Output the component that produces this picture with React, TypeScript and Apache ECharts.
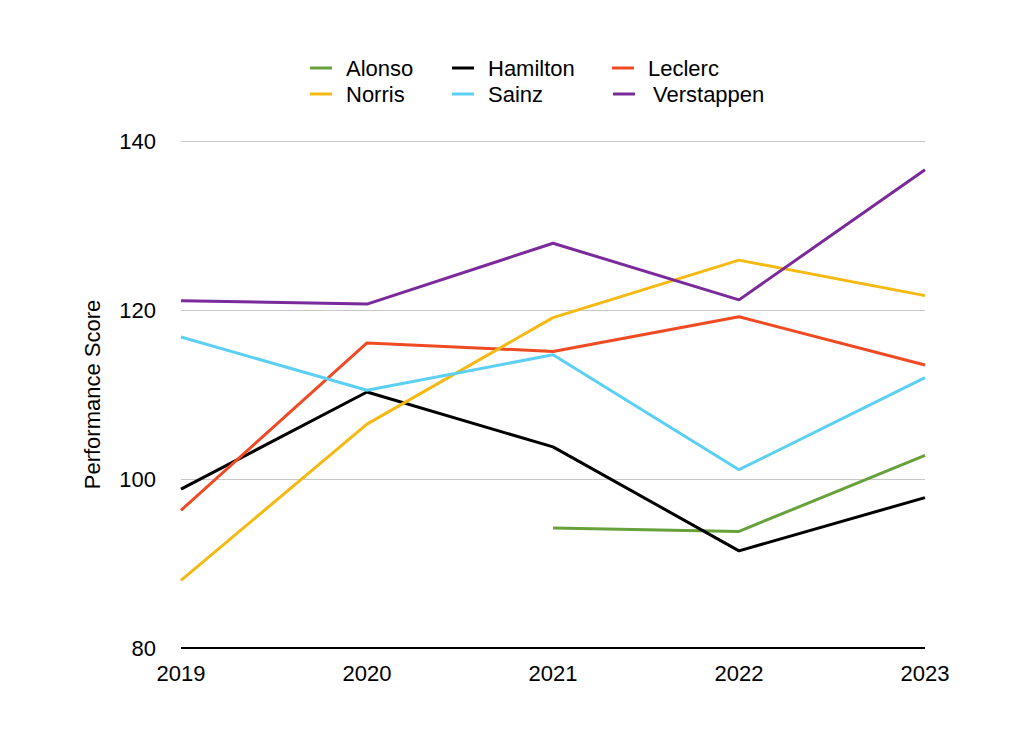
import React, { useEffect, useRef } from "react";
import * as echarts from "echarts";

const years = ["2019", "2020", "2021", "2022", "2023"];
const alonso = [null, null, 94.2, 93.8, 102.8];
const hamilton = [98.8, 110.3, 103.8, 91.5, 97.8];
const leclerc = [96.3, 116.1, 115.1, 119.2, 113.5];
const norris = [88.0, 106.5, 119.1, 125.9, 121.7];
const sainz = [116.8, 110.5, 114.7, 101.1, 112.0];
const verstappen = [121.1, 120.7, 127.9, 121.2, 136.6];

const FONT = "Liberation Sans, Arial, Helvetica, sans-serif";
const FS = 22;

export default function App() {
  const ref = useRef<HTMLDivElement>(null);
  useEffect(() => {
    const chart = echarts.init(ref.current!, null, { renderer: "svg" });
    const series = [
      { name: "Alonso", data: alonso, color: "#66a13c" },
      { name: "Hamilton", data: hamilton, color: "#000000" },
      { name: "Leclerc", data: leclerc, color: "#f04a23" },
      { name: "Norris", data: norris, color: "#f5b912" },
      { name: "Sainz", data: sainz, color: "#5bd0f2" },
      { name: "Verstappen", data: verstappen, color: "#7a2a9b" },
    ];
    const legendPos: Record<string, [number, number]> = {
      Alonso: [310, 57],
      Hamilton: [452, 57],
      Leclerc: [612, 57],
      Norris: [310, 83],
      Sainz: [452, 83],
      Verstappen: [613, 83],
    };
    chart.setOption({
      animation: false,
      legend: series.map((s) => ({
        data: [s.name],
        left: legendPos[s.name][0],
        top: legendPos[s.name][1],
        padding: 0,
        icon: "rect",
        itemWidth: 22,
        itemHeight: 3,
        selectedMode: false,
        textStyle: {
          fontFamily: FONT,
          fontSize: FS,
          color: "#000",
          padding: [0, 0, 0, s.name === "Verstappen" ? 13 : 9],
        },
      })),
      grid: { left: 181, right: 99, top: 141, bottom: 106, containLabel: false },
      xAxis: {
        type: "category",
        data: years,
        boundaryGap: false,
        axisLine: { show: false },
        axisTick: { show: false },
        axisLabel: { fontFamily: FONT, fontSize: FS, color: "#000", margin: 14 },
        splitLine: { show: false },
      },
      yAxis: {
        type: "value",
        min: 80,
        max: 140,
        interval: 20,
        name: "Performance Score",
        nameLocation: "middle",
        nameGap: 78,
        nameTextStyle: { fontFamily: FONT, fontSize: FS, color: "#000" },
        axisLine: { show: false },
        axisTick: { show: false },
        axisLabel: { fontFamily: FONT, fontSize: FS, color: "#000", margin: 25 },
        splitLine: {
          lineStyle: { color: "#c8c8c8", width: 1 },
        },
      },
      series: [
        ...series.map((s) => ({
          name: s.name,
          type: "line",
          data: s.data,
          color: s.color,
          showSymbol: false,
          symbol: "none",
          lineStyle: { width: 3, color: s.color },
          z: 3,
        })),
        {
          name: "axis80",
          type: "line",
          data: [80, 80, 80, 80, 80],
          showSymbol: false,
          symbol: "none",
          lineStyle: { width: 2, color: "#000" },
          silent: true,
          z: 1,
        },
      ],
    });
    return () => chart.dispose();
  }, []);
  return <div ref={ref} style={{ width: 1024, height: 754, margin: -8 }} />;
}
